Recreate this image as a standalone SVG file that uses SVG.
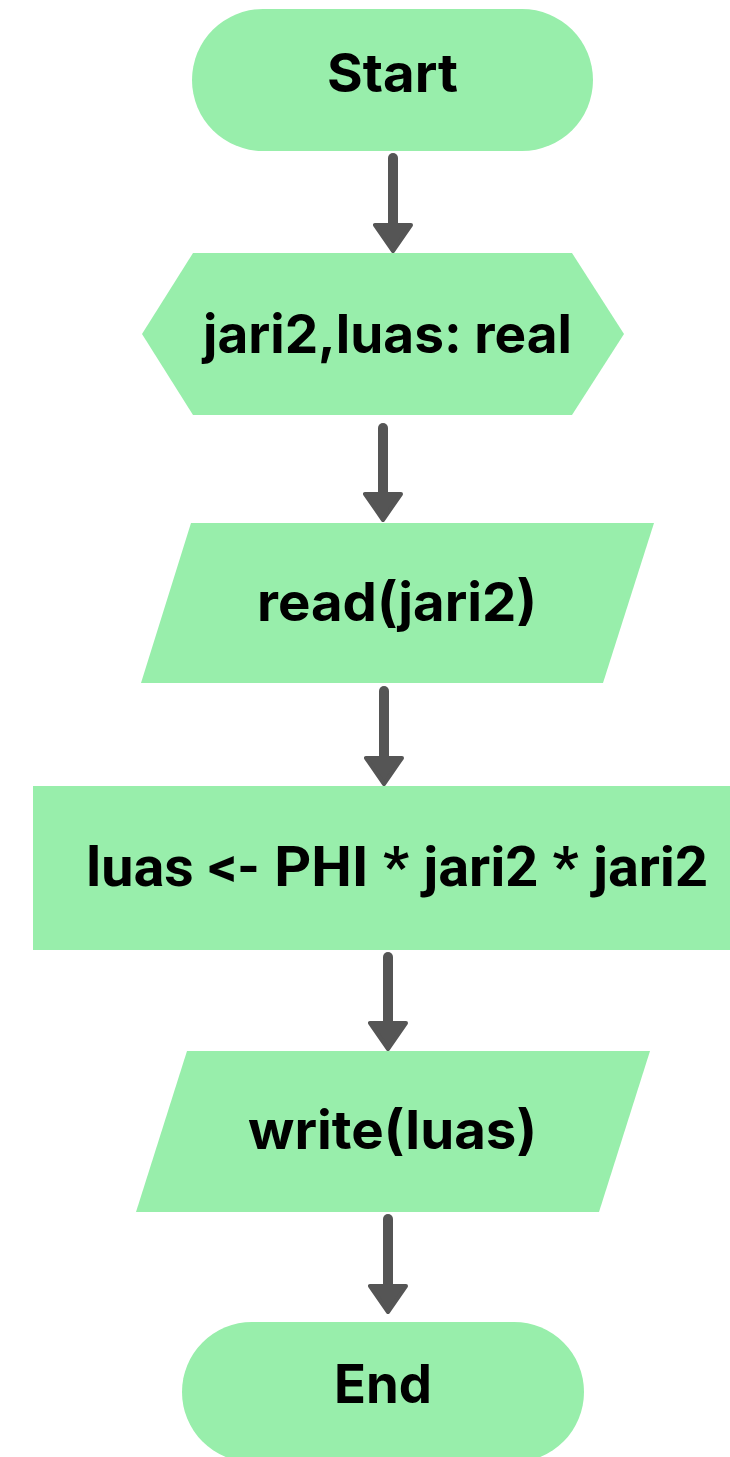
<svg xmlns="http://www.w3.org/2000/svg" width="730" height="1457" viewBox="0 0 730 1457">
  <style>
    .shape { fill: #98eeab; }
    .label { font-family: Inter, "Liberation Sans", sans-serif; font-weight: 700; font-size: 54px; fill: #000000; }
    .label-rect { font-family: Roboto, "Liberation Sans", sans-serif; font-weight: 700; font-size: 56px; fill: #000000; }
    .flow { stroke: #555555; stroke-width: 10; stroke-linecap: round; fill: none; marker-end: url(#head); }
  </style>
  <defs>
    <marker id="head" markerUnits="userSpaceOnUse" viewBox="0 0 30 40" markerWidth="30" markerHeight="40" refX="15" refY="20" orient="auto">
      <path d="M2,2 L28,20 L2,38 Z" fill="#555555" stroke="#555555" stroke-width="4" stroke-linejoin="round"/>
    </marker>
  </defs>
  <rect width="730" height="1457" fill="#ffffff"/>

  <!-- connectors -->
  <g id="connectors">
    <line class="flow" x1="393" y1="158" x2="393" y2="238"/>
    <line class="flow" x1="383" y1="428" x2="383" y2="507"/>
    <line class="flow" x1="384" y1="691" x2="384" y2="771"/>
    <line class="flow" x1="388" y1="957" x2="388" y2="1036"/>
    <line class="flow" x1="388" y1="1219" x2="388" y2="1299"/>
  </g>

  <g id="start">
    <rect class="shape" x="192" y="9" width="401" height="142" rx="71" ry="71"/>
    <text class="label" x="327" y="92" textLength="131" lengthAdjust="spacingAndGlyphs">Start</text>
  </g>

  <g id="declare">
    <polygon class="shape" points="142,334 193,253 572,253 624,334 572,415 193,415"/>
    <text class="label" x="203" y="353" textLength="369" lengthAdjust="spacingAndGlyphs">jari2,luas: real</text>
  </g>

  <g id="read">
    <polygon class="shape" points="191,523 654,523 603,683 141,683"/>
    <text class="label" x="257" y="621" textLength="280" lengthAdjust="spacingAndGlyphs">read(jari2)</text>
  </g>

  <g id="compute">
    <rect class="shape" x="33" y="786" width="697" height="164"/>
    <text class="label-rect" x="86" y="886" textLength="622" lengthAdjust="spacingAndGlyphs">luas &lt;- PHI * jari2 * jari2</text>
  </g>

  <g id="write">
    <polygon class="shape" points="187,1051 650,1051 599,1212 136,1212"/>
    <text class="label" x="248" y="1149" textLength="289" lengthAdjust="spacingAndGlyphs">write(luas)</text>
  </g>

  <g id="end">
    <rect class="shape" x="182" y="1322" width="402" height="140" rx="70" ry="70"/>
    <text class="label" x="334" y="1403" textLength="98" lengthAdjust="spacingAndGlyphs">End</text>
  </g>
</svg>
